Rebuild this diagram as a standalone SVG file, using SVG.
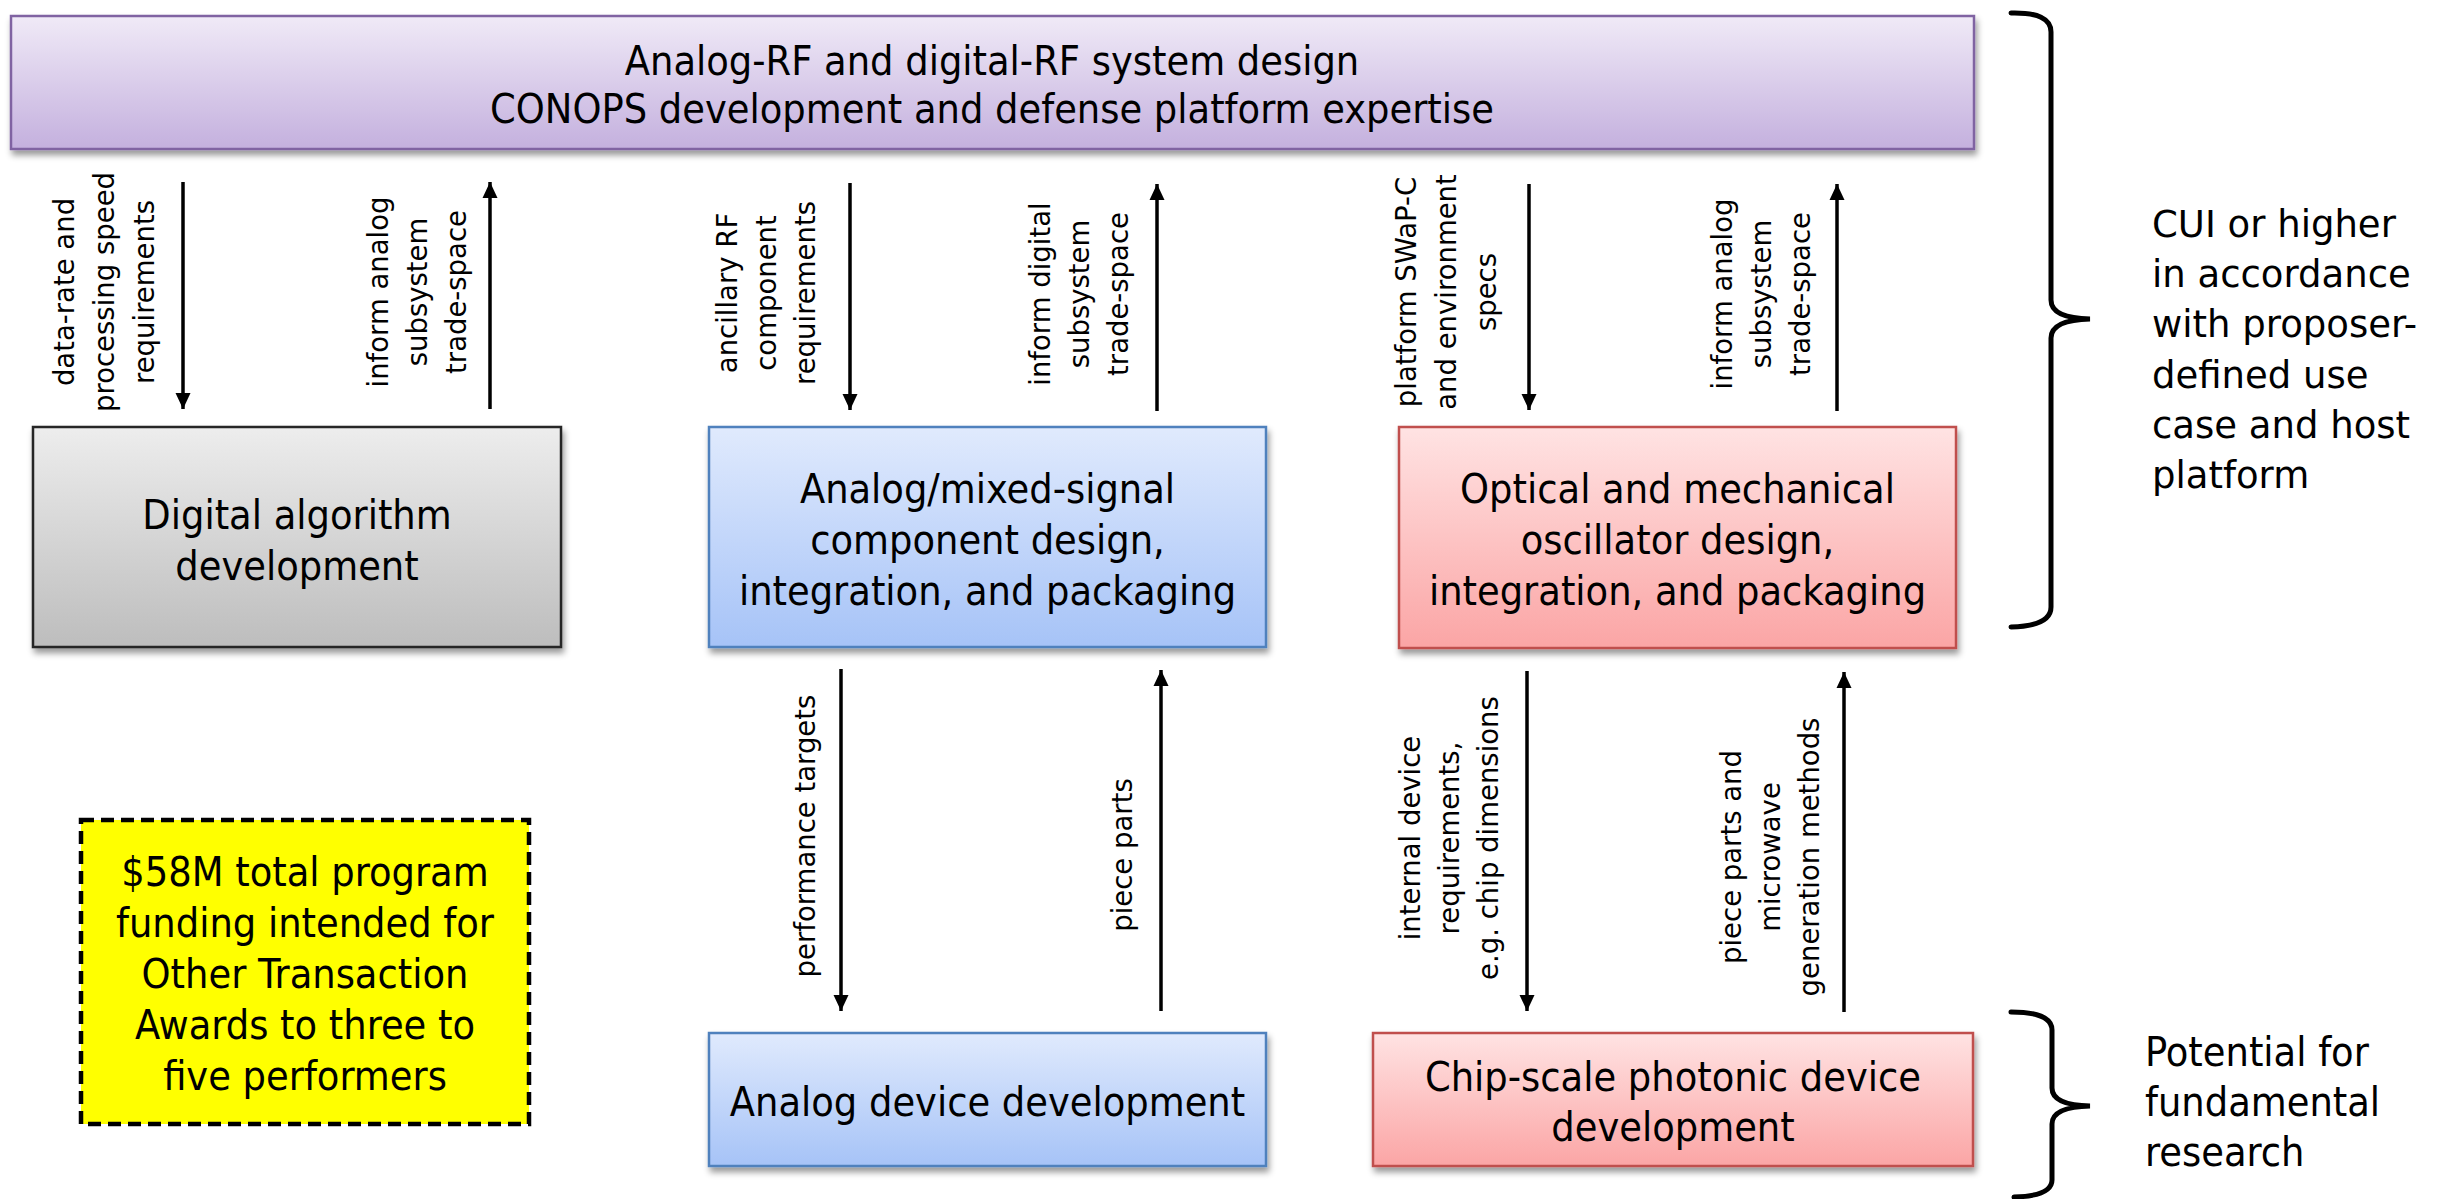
<svg xmlns="http://www.w3.org/2000/svg" width="2445" height="1199" viewBox="0 0 2445 1199">
  <defs>
    <linearGradient id="gPurple" x1="0" y1="0" x2="0" y2="1">
      <stop offset="0" stop-color="#F0EAF7"/>
      <stop offset="1" stop-color="#C4B0DE"/>
    </linearGradient>
    <linearGradient id="gGray" x1="0" y1="0" x2="0" y2="1">
      <stop offset="0" stop-color="#EDEDED"/>
      <stop offset="1" stop-color="#BDBDBD"/>
    </linearGradient>
    <linearGradient id="gBlue" x1="0" y1="0" x2="0" y2="1">
      <stop offset="0" stop-color="#E0EAFD"/>
      <stop offset="1" stop-color="#A6C3F7"/>
    </linearGradient>
    <linearGradient id="gRed" x1="0" y1="0" x2="0" y2="1">
      <stop offset="0" stop-color="#FFE3E3"/>
      <stop offset="1" stop-color="#FBA5A5"/>
    </linearGradient>
    <filter id="shadow" x="-5%" y="-10%" width="110%" height="130%">
      <feDropShadow dx="2" dy="5" stdDeviation="3" flood-color="#000" flood-opacity="0.4"/>
    </filter>
    <marker id="arrow" viewBox="0 0 16 16" refX="16" refY="8" markerWidth="16" markerHeight="16" markerUnits="userSpaceOnUse" orient="auto">
      <path d="M0,0.5 L16,8 L0,15.5 Z" fill="#000"/>
    </marker>
  </defs>
  <style>
    .box { stroke-width: 2.5; filter: url(#shadow); }
    .purple { fill: url(#gPurple); stroke: #8064A2; }
    .gray { fill: url(#gGray); stroke: #262626; }
    .blue { fill: url(#gBlue); stroke: #4F81BD; }
    .red { fill: url(#gRed); stroke: #C0504D; }
    .t { font-family: "DejaVu Sans Condensed", "DejaVu Sans", sans-serif; font-stretch: condensed; font-size: 41px; fill: #000; text-anchor: middle; }
    .tl { font-family: "DejaVu Sans Condensed", "DejaVu Sans", sans-serif; font-stretch: condensed; font-size: 41px; fill: #000; }
    .lab { font-family: "DejaVu Sans", Verdana, sans-serif; font-size: 27.5px; fill: #000; text-anchor: middle; }
    .side { font-family: "DejaVu Sans", Verdana, sans-serif; font-size: 37px; fill: #000; }
    .conn { stroke: #000; stroke-width: 3.5; fill: none; marker-end: url(#arrow); }
    .brace { stroke: #000; stroke-width: 5; fill: none; stroke-linecap: round; }
  </style>
  <rect width="2445" height="1199" fill="#FFFFFF"/>

  <g id="node-system">
    <rect class="box purple" x="11" y="16" width="1963" height="133"/>
    <text class="t" x="992" y="75">Analog-RF and digital-RF system design</text>
    <text class="t" x="992" y="123">CONOPS development and defense platform expertise</text>
  </g>

  <g id="node-digital">
    <rect class="box gray" x="33" y="427" width="528" height="220"/>
    <text class="t" x="297" y="529">Digital algorithm</text>
    <text class="t" x="297" y="580">development</text>
  </g>

  <g id="node-analog-mixed">
    <rect class="box blue" x="709" y="427" width="557" height="220"/>
    <text class="t" x="987.5" y="503">Analog/mixed-signal</text>
    <text class="t" x="987.5" y="554">component design,</text>
    <text class="t" x="987.5" y="605">integration, and packaging</text>
  </g>

  <g id="node-optical">
    <rect class="box red" x="1399" y="427" width="557" height="221"/>
    <text class="t" x="1677.5" y="503">Optical and mechanical</text>
    <text class="t" x="1677.5" y="554">oscillator design,</text>
    <text class="t" x="1677.5" y="605">integration, and packaging</text>
  </g>

  <g id="node-analog-device">
    <rect class="box blue" x="709" y="1033" width="557" height="133"/>
    <text class="t" x="987.5" y="1116">Analog device development</text>
  </g>

  <g id="node-photonic">
    <rect class="box red" x="1373" y="1033" width="600" height="133"/>
    <text class="t" x="1673" y="1091">Chip-scale photonic device</text>
    <text class="t" x="1673" y="1141">development</text>
  </g>

  <g id="node-funding">
    <rect x="81" y="820" width="448" height="304" fill="#FFFF00" stroke="#000" stroke-width="4.5" stroke-dasharray="13 7"/>
    <text class="t" x="305" y="886">$58M total program</text>
    <text class="t" x="305" y="937">funding intended for</text>
    <text class="t" x="305" y="988">Other Transaction</text>
    <text class="t" x="305" y="1039">Awards to three to</text>
    <text class="t" x="305" y="1090">five performers</text>
  </g>

  <g id="connectors">
    <line class="conn" x1="183" y1="182" x2="183" y2="409"/>
    <line class="conn" x1="490" y1="409" x2="490" y2="182"/>
    <line class="conn" x1="850" y1="183" x2="850" y2="410"/>
    <line class="conn" x1="1157" y1="411" x2="1157" y2="184"/>
    <line class="conn" x1="1529" y1="184" x2="1529" y2="410"/>
    <line class="conn" x1="1837" y1="411" x2="1837" y2="184"/>
    <line class="conn" x1="841" y1="669" x2="841" y2="1011"/>
    <line class="conn" x1="1161" y1="1011" x2="1161" y2="670"/>
    <line class="conn" x1="1527" y1="671" x2="1527" y2="1011"/>
    <line class="conn" x1="1844" y1="1012" x2="1844" y2="672"/>
  </g>

  <g id="connector-labels">
    <text class="lab" transform="translate(74,292) rotate(-90)"><tspan x="0" y="0">data-rate and</tspan><tspan x="0" y="40">processing speed</tspan><tspan x="0" y="80">requirements</tspan></text>
    <text class="lab" transform="translate(388,292) rotate(-90)"><tspan x="0" y="0">inform analog</tspan><tspan x="0" y="39">subsystem</tspan><tspan x="0" y="78">trade-space</tspan></text>
    <text class="lab" transform="translate(737,293) rotate(-90)"><tspan x="0" y="0">ancillary RF</tspan><tspan x="0" y="39">component</tspan><tspan x="0" y="78">requirements</tspan></text>
    <text class="lab" transform="translate(1050,294) rotate(-90)"><tspan x="0" y="0">inform digital</tspan><tspan x="0" y="39">subsystem</tspan><tspan x="0" y="78">trade-space</tspan></text>
    <text class="lab" transform="translate(1416,292) rotate(-90)"><tspan x="0" y="0">platform SWaP-C</tspan><tspan x="0" y="40">and environment</tspan><tspan x="0" y="80">specs</tspan></text>
    <text class="lab" transform="translate(1732,294) rotate(-90)"><tspan x="0" y="0">inform analog</tspan><tspan x="0" y="39">subsystem</tspan><tspan x="0" y="78">trade-space</tspan></text>
    <text class="lab" transform="translate(815,836) rotate(-90)">performance targets</text>
    <text class="lab" transform="translate(1132,855) rotate(-90)">piece parts</text>
    <text class="lab" transform="translate(1420,838) rotate(-90)"><tspan x="0" y="0">internal device</tspan><tspan x="0" y="39">requirements,</tspan><tspan x="0" y="78">e.g. chip dimensions</tspan></text>
    <text class="lab" transform="translate(1741,857) rotate(-90)"><tspan x="0" y="0">piece parts and</tspan><tspan x="0" y="39">microwave</tspan><tspan x="0" y="78">generation methods</tspan></text>
  </g>

  <g id="brace-top">
    <path class="brace" d="M2011,13 Q2051,12 2051,32 L2051,300 Q2051,318 2090,319 Q2051,320 2051,338 L2051,607 Q2051,626 2011,627"/>
    <text class="side" x="2152" y="237">CUI or higher</text>
    <text class="side" x="2152" y="287">in accordance</text>
    <text class="side" x="2152" y="337">with proposer-</text>
    <text class="side" x="2152" y="388">defined use</text>
    <text class="side" x="2152" y="438">case and host</text>
    <text class="side" x="2152" y="488">platform</text>
  </g>

  <g id="brace-bottom">
    <path class="brace" d="M2011,1012 Q2052,1012 2052,1030 L2052,1088 Q2052,1105 2090,1106 Q2052,1107 2052,1124 L2052,1180 Q2052,1196 2014,1197"/>
    <text class="tl" x="2145" y="1066">Potential for</text>
    <text class="tl" x="2145" y="1116">fundamental</text>
    <text class="tl" x="2145" y="1166">research</text>
  </g>
</svg>
